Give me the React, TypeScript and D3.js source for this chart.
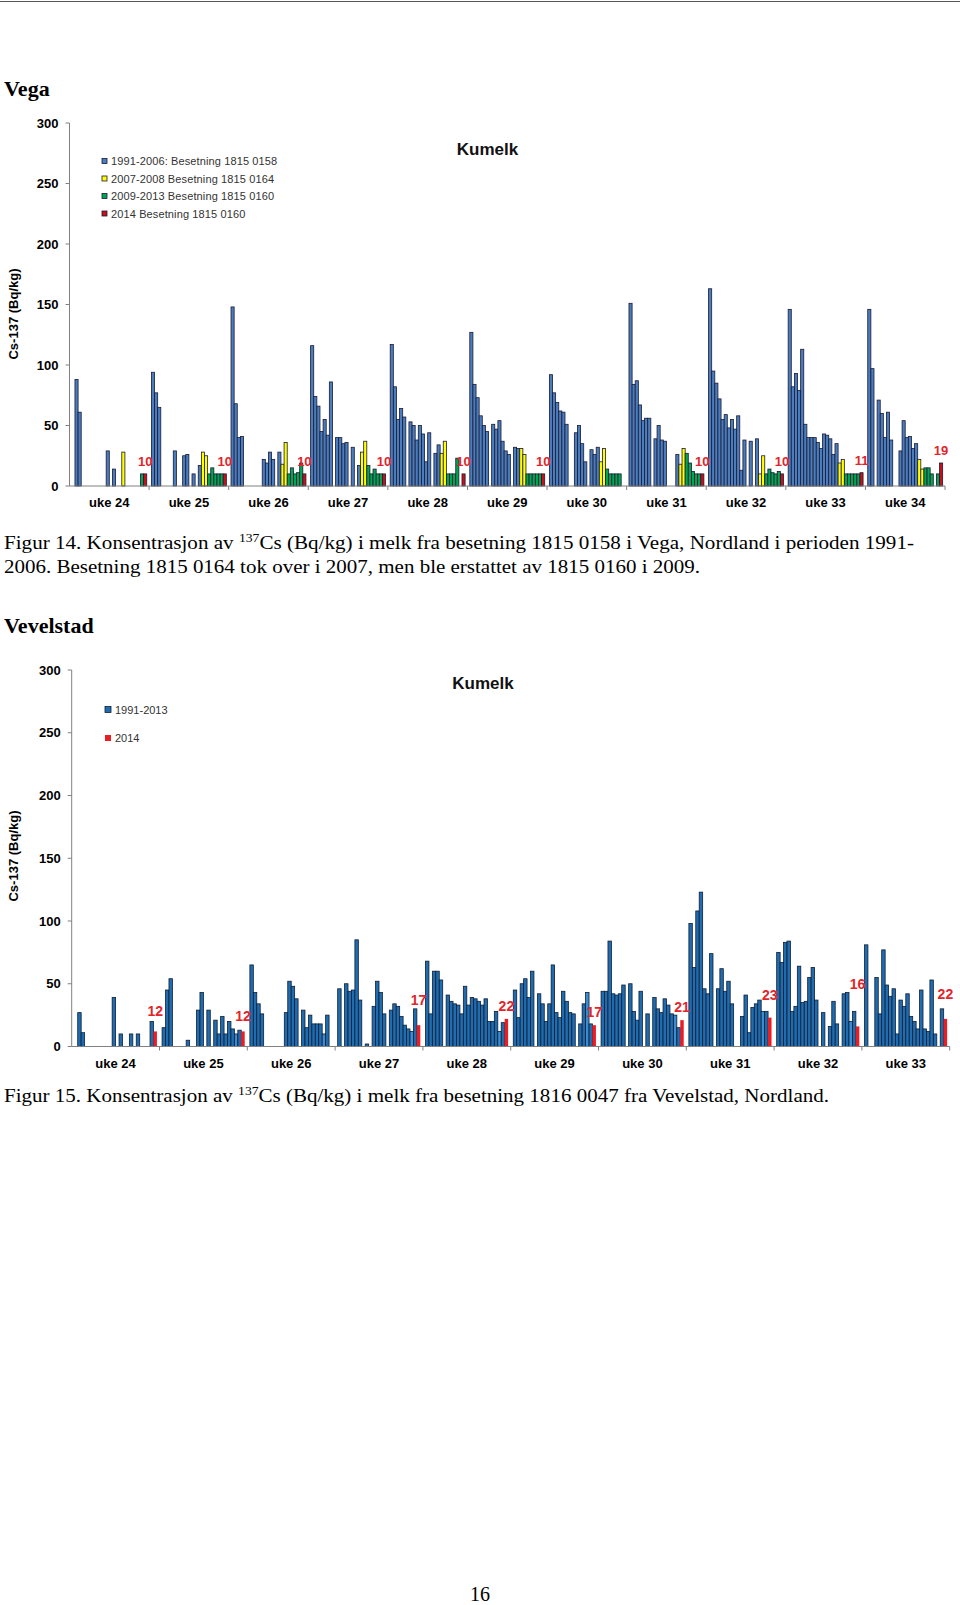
import React from 'react';
import * as d3 from 'd3';

// ---------- categories ----------
const years = [1991, 1992, 1993, 1994, 1995, 1996, 1997, 1998, 1999, 2000, 2001, 2002,
  2003, 2004, 2005, 2006, 2007, 2008, 2009, 2010, 2011, 2012, 2013, 2014];
const yTicks = [0, 50, 100, 150, 200, 250, 300];

// ---------- Vega (Figur 14) ----------
const vegaWeeks = ['uke 24', 'uke 25', 'uke 26', 'uke 27', 'uke 28', 'uke 29', 'uke 30', 'uke 31', 'uke 32', 'uke 33', 'uke 34'];
const vegaUke24 = [null, 88, 61, null, null, null, null, null, null, null, null, 29, null, 14, null, null, 28, null, null, null, null, null, 10, 10];
const vegaUke25 = [94, 77, 65, null, null, null, null, 29, null, null, 25, 26, null, 10, null, 17, 28, 25, 10, 15, 10, 10, 10, 10];
const vegaUke26 = [148, 68, 40, 41, null, null, null, null, null, null, 22, 19, 28, 22, null, 28, 18, 36, 10, 15, 10, 11, 19, 10];
const vegaUke27 = [116, 74, 66, 45, 55, 42, 86, null, 40, 40, 35, 36, null, 32, null, 17, 28, 37, 17, 10, 14, 10, 10, 10];
const vegaUke28 = [117, 82, 55, 64, 57, null, 53, 50, 38, 50, 43, 20, 44, null, 27, 34, 27, 37, 10, 10, 10, 23, null, 10];
const vegaUke29 = [127, 84, 73, 58, 50, 45, null, 51, 47, 54, 37, 29, 26, null, 32, 31, 31, 26, 10, 10, 10, 10, 10, 10];
const vegaUke30 = [92, 77, 69, 62, 61, 51, null, null, 44, 50, 35, 20, null, 30, 26, 32, 20, 31, 14, 10, 10, 10, 10, null];
const vegaUke31 = [151, 84, 87, 67, 54, 56, 56, null, 39, 50, 38, 37, null, null, null, 26, 18, 31, 27, 19, 12, 10, 10, 10];
const vegaUke32 = [163, 95, 85, 72, 55, 59, 48, 55, 47, 58, 13, 38, null, 37, null, 39, 10, 25, 10, 14, 11, 10, 12, 10];
const vegaUke33 = [146, 82, 93, 79, 113, 51, 40, 40, 40, 36, 31, 43, 42, 39, 26, 35, 19, 22, 10, 10, 10, 10, 10, 11];
const vegaUke34 = [146, 97, null, 71, 60, 40, 61, 38, null, null, 29, 54, 40, 41, 31, 35, 22, 14, 15, 15, 10, null, 10, 19];
const vegaLegend = ['1991-2006: Besetning 1815 0158', '2007-2008 Besetning 1815 0164', '2009-2013 Besetning 1815 0160', '2014 Besetning 1815 0160'];

// ---------- Vevelstad (Figur 15) ----------
const vevWeeks = ['uke 24', 'uke 25', 'uke 26', 'uke 27', 'uke 28', 'uke 29', 'uke 30', 'uke 31', 'uke 32', 'uke 33'];
const vevUke24 = [null, 27, 11, null, null, null, null, null, null, null, null, 39, null, 10, null, null, 10, null, 10, null, null, null, 20, 12];
const vevUke25 = [15, 45, 54, null, null, null, null, 5, null, null, 29, 43, null, 29, null, 21, 10, 24, 10, 20, 14, 10, 13, 12];
const vevUke26 = [65, 43, 34, 26, null, null, null, null, null, null, 27, 52, 48, 38, null, 29, 15, 25, 18, 18, 18, 10, 25, null];
const vevUke27 = [46, null, 50, 44, 45, 85, 37, null, 2, null, 32, 52, 43, 26, null, 29, 34, 32, 24, 17, 14, 12, 30, 17];
const vevUke28 = [68, 26, 60, 60, 53, null, 41, 36, 34, 33, 26, 48, 33, 39, 38, 36, 33, 38, 20, 20, 28, 12, 19, 22];
const vevUke29 = [45, 23, 50, 54, 39, 60, null, 42, 34, 20, 34, 65, 27, 23, 44, 36, 27, 26, null, 18, 34, 43, 18, 17];
const vevUke30 = [44, 44, 84, 42, 41, 42, 49, null, 50, 28, 21, 44, null, 26, null, 39, 30, 27, 38, 33, 26, 25, 15, 21];
const vevUke31 = [98, 63, 108, 123, 46, 42, 74, null, 46, 62, 44, 52, 34, null, null, 24, 41, 11, 31, 34, 37, 28, 28, 23];
const vevUke32 = [75, 67, 83, 84, 28, 32, 64, 35, 36, 55, 63, 37, null, 27, null, 16, 36, 18, null, 42, 43, 20, 28, 16];
const vevUke33 = [81, null, null, 55, 26, 77, 49, 40, 46, 10, 37, 32, 42, 24, 20, 14, 45, 14, 12, 53, 10, null, 30, 22];
const vevLegend = ['1991-2013', '2014'];
// vertical lift (px) of the hand-placed red value labels above the 2014 bar
const vevLabelLift = [20, 15, 0, 25, 13, 13, 13, 23, 42, 25];

const vegaData = [vegaUke24, vegaUke25, vegaUke26, vegaUke27, vegaUke28, vegaUke29, vegaUke30, vegaUke31, vegaUke32, vegaUke33, vegaUke34];
const vevData = [vevUke24, vevUke25, vevUke26, vevUke27, vevUke28, vevUke29, vevUke30, vevUke31, vevUke32, vevUke33];

const SANS = 'Liberation Sans, Arial, sans-serif';
const SERIF = 'Liberation Serif, Times New Roman, serif';
const AXIS = '#808080';

function vegaColor(i: number) {
  if (i < 16) return '#4a7dbe';
  if (i < 18) return '#ffff00';
  if (i < 23) return '#00a651';
  return '#c8101a';
}
function vevColor(i: number) {
  if (i === 23) return '#ec1c24';
  if (i === 21) return '#3a8cd4';
  return '#1f6cb0';
}

type ChartProps = {
  weeks: string[];
  data: (number | null)[][];
  axisX: number; axisEnd: number; yZero: number; yTop: number;
  color: (i: number) => string;
  stroke: (i: number) => string;
  titleX: number; titleY: number;
  yTitleY: number;
  weekLabelY: number;
  legend: string[];
  legendColors: string[];
  legendX: number; legendRows: number[]; legendSize: number; legendStroke: string[];
  legendSpacing: number;
  labelSize: number;
  labelLift: (k: number) => number;
};

function Chart(p: ChartProps) {
  const xWeek = d3.scaleBand<string>().domain(p.weeks).range([p.axisX, p.axisEnd]).paddingInner(0).paddingOuter(0);
  const xYear = d3.scaleBand<number>().domain(years).range([0, xWeek.bandwidth()]).paddingInner(0).paddingOuter(0.75);
  const y = d3.scaleLinear().domain([0, 300]).range([p.yZero, p.yTop]);
  const bw = xYear.bandwidth();
  const bars: JSX.Element[] = [];
  const labels: JSX.Element[] = [];
  p.data.forEach((wk, k) => {
    const x0 = xWeek(p.weeks[k])!;
    wk.forEach((v, i) => {
      if (v === null || v === undefined) return;
      const x = x0 + xYear(years[i])!;
      bars.push(
        <rect key={`b${k}-${i}`} x={x} y={y(v)} width={bw} height={y(0) - y(v)}
          fill={p.color(i)} stroke={p.stroke(i)} strokeWidth={0.8} />
      );
      if (i === 23) {
        labels.push(
          <text key={`l${k}`} x={x + bw / 2} y={y(v) - p.labelLift(k) + 5} textAnchor="middle"
            fontFamily={SANS} fontWeight="bold" fontSize={p.labelSize} fill="#e2242b">{v}</text>
        );
      }
    });
  });
  return (
    <g>
      <text x={p.titleX} y={p.titleY} textAnchor="middle" fontFamily={SANS} fontWeight="bold" fontSize={17} fill="#111">Kumelk</text>
      {p.legend.map((t, j) => (
        <g key={t}>
          <rect x={p.legendX} y={p.legendRows[j] - p.legendSize / 2} width={p.legendSize} height={p.legendSize}
            fill={p.legendColors[j]} stroke={p.legendStroke[j]} strokeWidth={0.8} />
          <text x={p.legendX + p.legendSize + 4} y={p.legendRows[j] + 4} fontFamily={SANS} fontSize={11}
            letterSpacing={p.legendSpacing} fill="#333">{t}</text>
        </g>
      ))}
      {bars}
      {labels}
      {/* y axis */}
      <line x1={p.axisX} x2={p.axisX} y1={y(300)} y2={y(0)} stroke={AXIS} strokeWidth={1} />
      {yTicks.map(t => (
        <g key={t}>
          <line x1={p.axisX - 4} x2={p.axisX} y1={y(t)} y2={y(t)} stroke={AXIS} strokeWidth={1} />
          <text x={p.axisX - 11} y={y(t) + 4.5} textAnchor="end" fontFamily={SANS} fontWeight="bold" fontSize={13} fill="#000">{t}</text>
        </g>
      ))}
      {/* x axis */}
      <line x1={p.axisX} x2={p.axisEnd} y1={y(0)} y2={y(0)} stroke={AXIS} strokeWidth={1} />
      {p.weeks.map((w, k) => (
        <g key={w}>
          <line x1={xWeek(w)! + xWeek.bandwidth()} x2={xWeek(w)! + xWeek.bandwidth()} y1={y(0)} y2={y(0) + 4} stroke={AXIS} strokeWidth={1} />
          <text x={xWeek(w)! + xWeek.bandwidth() / 2} y={p.weekLabelY} textAnchor="middle" fontFamily={SANS}
            fontWeight="bold" fontSize={13} fill="#000">{w}</text>
        </g>
      ))}
      <text transform={`translate(17.5,${p.yTitleY}) rotate(-90)`} textAnchor="middle" fontFamily={SANS}
        fontWeight="bold" fontSize={13} fill="#000">Cs-137 (Bq/kg)</text>
    </g>
  );
}

export default function App() {
  return (
    <div style={{ position: 'absolute', left: 0, top: 0, width: 960, height: 1605, background: '#fff' }}>
      <svg width={960} height={1605} viewBox="0 0 960 1605" style={{ display: 'block' }}>
        <rect x={0} y={0} width={960} height={1605} fill="#fff" />
        <line x1={0} x2={960} y1={1.5} y2={1.5} stroke="#555" strokeWidth={1} />
        <text x={4} y={96} fontFamily={SERIF} fontWeight="bold" fontSize={22} fill="#000">Vega</text>
        <Chart weeks={vegaWeeks} data={vegaData} axisX={69.5} axisEnd={945} yZero={486} yTop={123}
          color={vegaColor} stroke={() => '#1a1a33'}
          titleX={487.5} titleY={155} yTitleY={314} weekLabelY={507}
          legend={vegaLegend} legendColors={['#4a7dbe', '#ffff00', '#00a651', '#c8101a']}
          legendStroke={['#1a1a33', '#1a1a33', '#1a1a33', '#1a1a33']}
          legendX={102} legendRows={[161, 178.5, 196, 213.5]} legendSize={5} legendSpacing={0.12}
          labelSize={13} labelLift={() => 13} />
        <text x={4} y={549} fontFamily={SERIF} fontSize={18.5} fill="#000" textLength={910} lengthAdjust="spacingAndGlyphs">
          Figur 14. Konsentrasjon av <tspan fontSize={12} dy={-7}>137</tspan><tspan dy={7}>Cs (Bq/kg) i melk fra besetning 1815 0158 i Vega, Nordland i perioden 1991-</tspan>
        </text>
        <text x={4} y={573} fontFamily={SERIF} fontSize={18.5} fill="#000" textLength={696} lengthAdjust="spacingAndGlyphs">
          2006. Besetning 1815 0164 tok over i 2007, men ble erstattet av 1815 0160 i 2009.
        </text>
        <text x={4} y={633} fontFamily={SERIF} fontWeight="bold" fontSize={22} fill="#000">Vevelstad</text>
        <Chart weeks={vevWeeks} data={vevData} axisX={71.7} axisEnd={949.7} yZero={1046.5} yTop={670}
          color={vevColor} stroke={(i) => (i === 23 ? 'none' : '#0e1e33')}
          titleX={483} titleY={689} yTitleY={856} weekLabelY={1068}
          legend={vevLegend} legendColors={['#1f6cb0', '#ec1c24']} legendStroke={['#0e1e33', 'none']}
          legendX={105} legendRows={[709.5, 738]} legendSize={6} legendSpacing={0}
          labelSize={14} labelLift={(k) => vevLabelLift[k]} />
        <text x={4} y={1102} fontFamily={SERIF} fontSize={18.5} fill="#000" textLength={825} lengthAdjust="spacingAndGlyphs">
          Figur 15. Konsentrasjon av <tspan fontSize={12} dy={-7}>137</tspan><tspan dy={7}>Cs (Bq/kg) i melk fra besetning 1816 0047 fra Vevelstad, Nordland.</tspan>
        </text>
        <text x={480} y={1601} textAnchor="middle" fontFamily={SERIF} fontSize={20} fill="#000">16</text>
      </svg>
    </div>
  );
}
